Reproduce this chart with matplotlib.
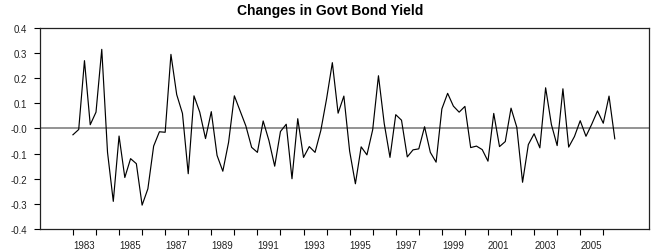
import numpy as np
import matplotlib
matplotlib.use("Agg")
from matplotlib import pyplot as plt

plt.rcParams['font.family'] = ['Liberation Sans', 'DejaVu Sans']

# quarterly changes, 1983Q1 .. 2006Q3
start_year = 1983
dy = [-0.025, -0.004, 0.27, 0.015,
      0.065, 0.315, -0.095, -0.29,
      -0.03, -0.195, -0.12, -0.14,
      -0.305, -0.24, -0.07, -0.013,
      -0.015, 0.295, 0.135, 0.06,
      -0.18, 0.13, 0.065, -0.04,
      0.067, -0.107, -0.17, -0.055,
      0.13, 0.07, 0.01, -0.075,
      -0.095, 0.03, -0.048, -0.15,
      -0.012, 0.017, -0.2, 0.039,
      -0.115, -0.072, -0.095, -0.008,
      0.118, 0.262, 0.061, 0.129,
      -0.09, -0.22, -0.073, -0.105,
      -0.005, 0.21, 0.02, -0.115,
      0.055, 0.033, -0.113, -0.085,
      -0.081, 0.007, -0.095, -0.134,
      0.078, 0.14, 0.089, 0.065,
      0.088, -0.076, -0.07, -0.084,
      -0.13, 0.06, -0.072, -0.052,
      0.081, 0.005, -0.214, -0.064,
      -0.021, -0.077, 0.162, 0.016,
      -0.068, 0.158, -0.074, -0.032,
      0.031, -0.031, 0.017, 0.07,
      0.021, 0.129, -0.041]
t = start_year + np.arange(len(dy)) / 4.0

yticks = [0.4, 0.3, 0.2, 0.1, 0.0, -0.1, -0.2, -0.3, -0.4]
ylabels = ['0.4', '0.3', '0.2', '0.1', '-0.0', '-0.1', '-0.2', '-0.3', '-0.4']
years = list(range(1983, 2007))
label_years = list(range(1983, 2007, 2))

fig = plt.figure(figsize=(6.53, 2.53), dpi=100)
ax = fig.add_axes([0.0605, 0.0909, 0.9329, 0.7945])

ax.axhline(0, color='#808080', lw=1.2, zorder=1)
ax.plot(t, dy, color='black', lw=0.85, zorder=2)

ax.set_xlim(1981.55, 2007.97)
ax.set_ylim(-0.4, 0.4)
ax.set_yticks(yticks)
ax.set_yticklabels(ylabels)
ax.set_xticks(years)
ax.set_xticklabels([str(y) if y in label_years else '' for y in years], ha='left')

ax.tick_params(axis='both', direction='out', length=4, width=0.8,
               labelsize=7, colors='black', labelcolor='#222222')
ax.tick_params(axis='y', pad=5)
ax.tick_params(axis='x', pad=4)
for s in ax.spines.values():
    s.set_linewidth(0.9)
    s.set_color('#222222')

fig.text(0.505, 0.955, 'Changes in Govt Bond Yield', ha='center', va='center',
         fontsize=10, fontweight='bold')

fig.savefig('out.png', dpi=100)
